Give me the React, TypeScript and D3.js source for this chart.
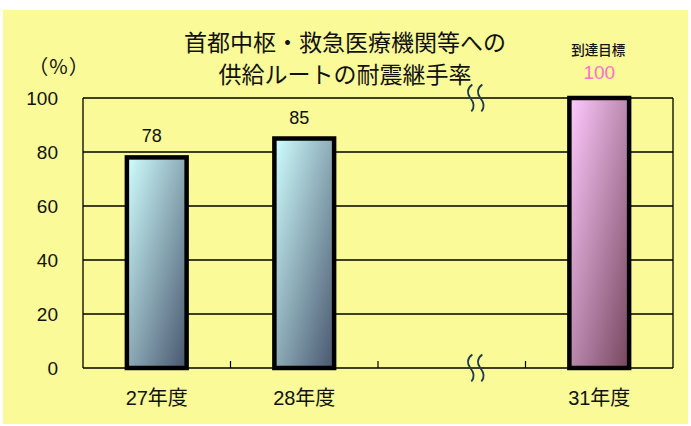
import React from "react";
import * as d3 from "d3";

const categories = ["27年度", "28年度", "", "31年度"];
const values: (number | null)[] = [78, 85, null, 100];
const isTarget = [false, false, false, true];
const yTicks = [0, 20, 40, 60, 80, 100];
const titleLines = ["首都中枢・救急医療機関等への", "供給ルートの耐震継手率"];
const unitLabel = "（%）";
const targetLabel = "到達目標";

const W = 691;
const H = 426;
const M = { left: 83, right: 673, top: 98, bottom: 368 };
const CJK = "'Noto Sans CJK JP', 'Noto Sans', sans-serif";
const NUM = "'Liberation Sans', 'Noto Sans CJK JP', sans-serif";

export default function App() {
  const x = d3
    .scaleBand<number>()
    .domain(categories.map((_, i) => i))
    .range([M.left, M.right])
    .padding(0);
  const y = d3.scaleLinear().domain([0, 100]).range([M.bottom, M.top]);
  const bw = x.bandwidth();
  const barW = bw * 0.405;

  const breakX = (x(2) as number) + bw * 0.66;
  const squiggle = (cx: number, cy: number) => {
    const y0 = cy - 13.5;
    return `M${cx + 2},${y0} C${cx - 3.5},${y0 + 4} ${cx - 3.5},${y0 + 9} ${cx},${y0 + 13.5} S${cx + 4.5},${y0 + 23} ${cx + 1},${y0 + 27}`;
  };

  return (
    <svg
      width={W}
      height={H}
      style={{ position: "absolute", left: 0, top: 0 }}
    >
      <defs>
        <linearGradient id="gBlue" x1="0" y1="0" x2="1" y2="1">
          <stop offset="0" stopColor="#D0FFFF" />
          <stop offset="1" stopColor="#48566E" />
        </linearGradient>
        <linearGradient id="gPink" x1="0" y1="0" x2="1" y2="1">
          <stop offset="0" stopColor="#FFCAFF" />
          <stop offset="1" stopColor="#76465E" />
        </linearGradient>
      </defs>
      <rect x={0} y={0} width={W} height={H} fill="#ffffff" />
      <rect x={3} y={10} width={685} height={414} fill="#FAFA98" />

      {/* title */}
      {titleLines.map((t, i) => (
        <text
          key={i}
          x={345}
          y={51 + i * 32}
          textAnchor="middle"
          fontFamily={CJK}
          fontSize={23}
          fill="#111"
        >
          {t}
        </text>
      ))}
      <text
        x={59}
        y={74}
        textAnchor="middle"
        fontFamily={CJK}
        fontSize={20}
        letterSpacing={1}
        fill="#111"
      >
        {unitLabel}
      </text>

      {/* gridlines */}
      {yTicks.map((t) => (
        <line
          key={t}
          x1={M.left}
          x2={M.right}
          y1={y(t)}
          y2={y(t)}
          stroke="#000"
          strokeWidth={1.3}
        />
      ))}
      <line x1={M.left} x2={M.left} y1={M.top} y2={M.bottom} stroke="#000" strokeWidth={1.3} />
      <line x1={M.right} x2={M.right} y1={M.top} y2={M.bottom} stroke="#000" strokeWidth={1.3} />
      {/* category separator ticks */}
      {categories.slice(1).map((_, i) => (
        <line
          key={i}
          x1={x(i + 1) as number}
          x2={x(i + 1) as number}
          y1={M.bottom}
          y2={M.bottom - 7}
          stroke="#000"
          strokeWidth={1.2}
        />
      ))}

      {/* y tick labels */}
      {yTicks.map((t) => (
        <text
          key={t}
          x={58}
          y={y(t) + 6.5}
          textAnchor="end"
          fontFamily={NUM}
          fontSize={19}
          fill="#111"
        >
          {t}
        </text>
      ))}

      {/* bars */}
      {values.map((v, i) => {
        if (v == null) return null;
        const cx = (x(i) as number) + bw / 2;
        return (
          <g key={i}>
            <rect
              x={cx - barW / 2}
              y={y(v)}
              width={barW}
              height={y(0) - y(v)}
              fill={isTarget[i] ? "url(#gPink)" : "url(#gBlue)"}
              stroke="#000"
              strokeWidth={4.5}
            />
            {isTarget[i] ? (
              <>
                <text
                  x={cx - 1}
                  y={55}
                  textAnchor="middle"
                  fontFamily={CJK}
                  fontSize={13.5}
                  fontWeight={500}
                  fill="#151515"
                >
                  {targetLabel}
                </text>
                <text
                  x={cx}
                  y={y(v) - 19}
                  textAnchor="middle"
                  fontFamily={NUM}
                  fontSize={19}
                  fill="#FF70CC"
                >
                  {v}
                </text>
              </>
            ) : (
              <text
                x={cx - 5}
                y={y(v) - 15}
                textAnchor="middle"
                fontFamily={NUM}
                fontSize={18}
                fill="#111"
              >
                {v}
              </text>
            )}
          </g>
        );
      })}

      {/* category labels */}
      {categories.map((c, i) =>
        c ? (
          <text
            key={i}
            x={(x(i) as number) + bw / 2}
            y={405}
            textAnchor="middle"
            fontFamily={NUM}
            fontSize={20}
            fill="#111"
          >
            {c}
          </text>
        ) : null
      )}

      {/* axis break marks */}
      {[M.top, M.bottom].map((yy, k) => (
        <g key={k} fill="none" stroke="#1E3C4C" strokeWidth={1.8}>
          <path d={squiggle(breakX - 5, yy)} />
          <path d={squiggle(breakX + 5, yy)} />
        </g>
      ))}
    </svg>
  );
}
